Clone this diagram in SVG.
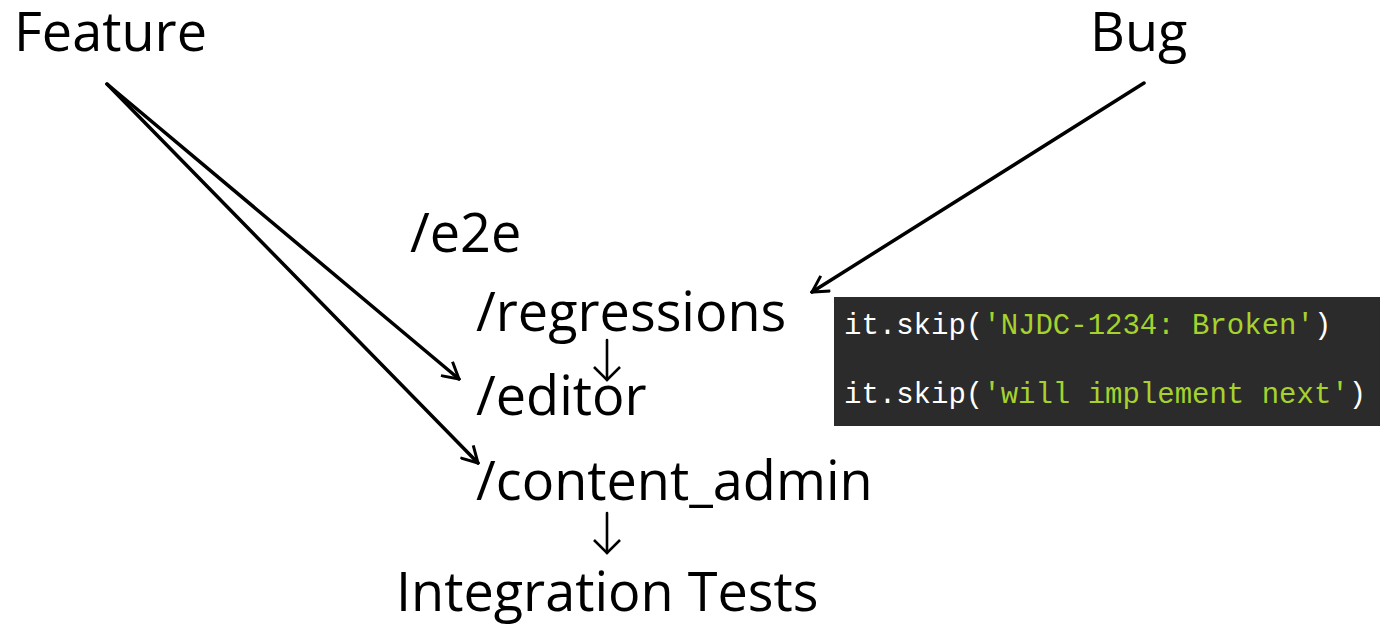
<svg xmlns="http://www.w3.org/2000/svg" width="1380" height="624" viewBox="0 0 1380 624">
<defs>
<style>
.t{font-family:"Open Sans","Noto Sans","Liberation Sans",sans-serif;font-size:54px;fill:#000}
.c{font-family:"Liberation Mono","DejaVu Sans Mono",monospace;font-size:29px;fill:#fff}
.g{fill:#a6d22e}
.ln{stroke:#000;stroke-width:3.5;fill:none;stroke-linecap:round}
.dn{stroke:#000;stroke-width:2.6;fill:none;stroke-linecap:round}
</style>
<marker id="arr" viewBox="0 0 20 20" refX="18" refY="10" markerWidth="20" markerHeight="20" markerUnits="userSpaceOnUse" orient="auto">
<path d="M2,1 L18,10 L2,19" fill="none" stroke="#000" stroke-width="3"/>
</marker>
<marker id="arrs" viewBox="0 0 28 28" refX="26" refY="14" markerWidth="28" markerHeight="28" markerUnits="userSpaceOnUse" orient="auto">
<path d="M13,1 L26,14 L13,27" fill="none" stroke="#000" stroke-width="2.6"/>
</marker>
</defs>
<rect width="1380" height="624" fill="#fff"/>
<g id="feature"><text class="t" x="14" y="51">Feature</text></g>
<g id="bug"><text class="t" x="1090" y="51">Bug</text></g>
<g id="e2e"><text class="t" x="410" y="252">/e2e</text></g>
<g id="regressions"><text class="t" x="476" y="331">/regressions</text></g>
<g id="editor"><text class="t" x="476" y="415">/editor</text></g>
<g id="content_admin"><text class="t" x="476" y="500">/content_admin</text></g>
<g id="integration"><text class="t" x="396" y="611">Integration Tests</text></g>
<g id="code">
<rect x="834" y="297" width="546" height="129" fill="#2b2b2b"/>
<text class="c" x="844" y="334">it.skip(<tspan class="g">'NJDC-1234: Broken'</tspan>)</text>
<text class="c" x="844" y="403">it.skip(<tspan class="g">'will implement next'</tspan>)</text>
</g>
<g id="connectors">
<line class="ln" x1="107" y1="84" x2="459" y2="379" marker-end="url(#arr)"/>
<line class="ln" x1="107" y1="84" x2="478" y2="463" marker-end="url(#arr)"/>
<line class="ln" x1="1144" y1="83" x2="812" y2="292" marker-end="url(#arr)"/>
<line class="dn" x1="607" y1="340" x2="607" y2="380" marker-end="url(#arrs)"/>
<line class="dn" x1="607" y1="513" x2="607" y2="553" marker-end="url(#arrs)"/>
</g>
</svg>
